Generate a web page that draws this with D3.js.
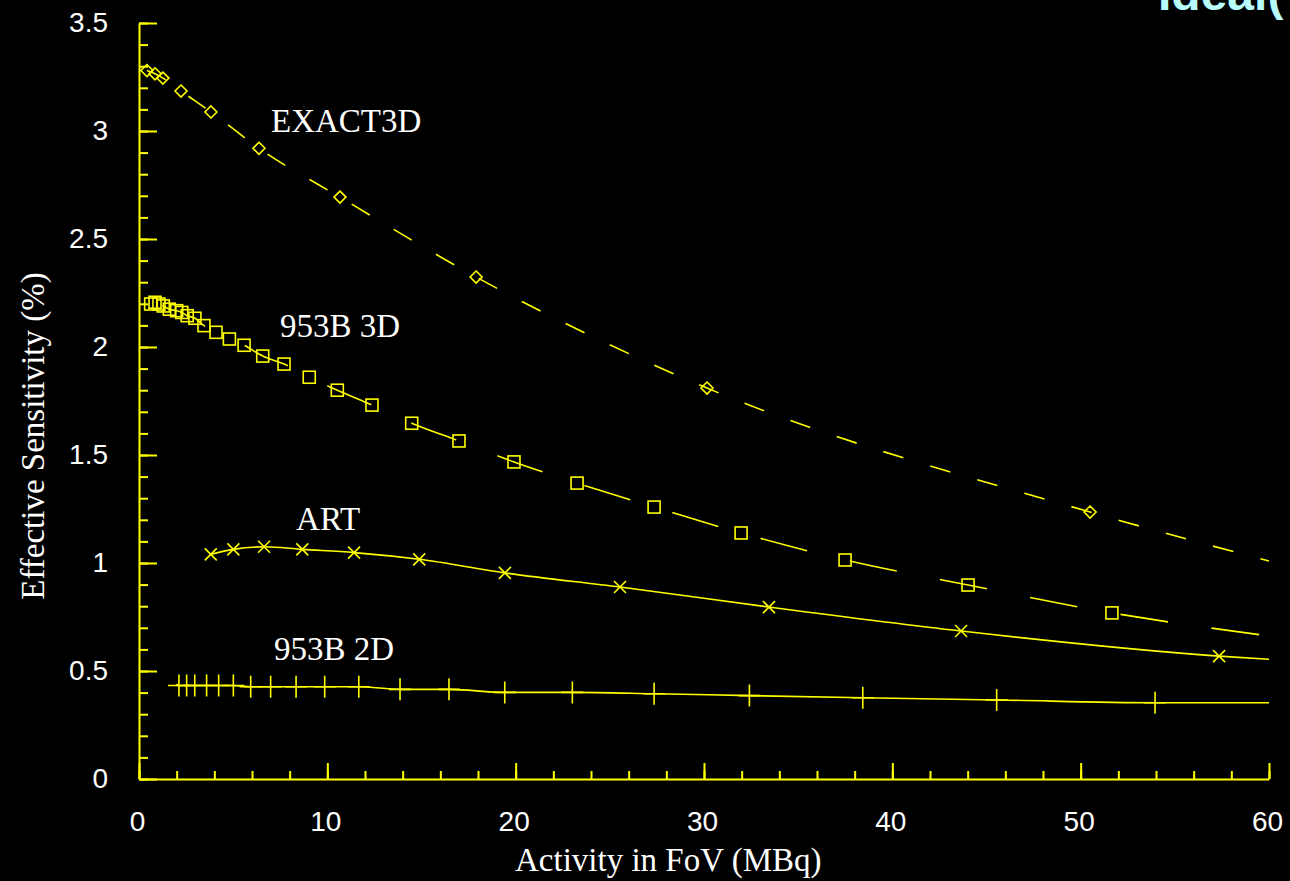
<!DOCTYPE html>
<html>
<head>
<meta charset="utf-8">
<script src="https://cdn.jsdelivr.net/npm/d3@7"></script>
<style>
  body { margin: 0; background: #000; }
  svg { display: block; }
  .tick text { fill: #fff; font-family: "Liberation Sans", Arial, sans-serif; font-size: 28px; }
  .serif { fill: #fff; font-family: "Liberation Serif", "Times New Roman", serif; font-size: 33px; }
</style>
</head>
<body>
<script>
// EXACT3D (diamonds, dashed)
var exactX = [0.42, 0.85, 1.27, 2.23, 3.82, 6.37, 10.67, 17.9, 30.16, 50.5];
var exactY = [3.28, 3.265, 3.245, 3.185, 3.088, 2.92, 2.694, 2.324, 1.81, 1.236];
var exactEnd = 1.009;

// 953B 3D (squares, long dashes)
var b3dX = [0.62, 0.85, 1.06, 1.29, 1.61, 2.0, 2.27, 2.56, 2.97, 3.45, 4.09, 4.80, 5.58, 6.57,
  7.70, 9.04, 10.53, 12.37, 14.48, 16.99, 19.91, 23.26, 27.35, 31.97, 37.49, 44.02, 51.66];
var b3dY = [2.199, 2.207, 2.199, 2.19, 2.175, 2.168, 2.16, 2.145, 2.133, 2.099, 2.068, 2.037, 2.008, 1.958,
  1.921, 1.86, 1.80, 1.731, 1.647, 1.565, 1.468, 1.370, 1.259, 1.139, 1.014, 0.898, 0.769];
var b3dEnd = 0.662;

// ART (crosses, solid)
var artX = [3.81, 5.01, 6.64, 8.67, 11.42, 14.88, 19.43, 25.54, 33.45, 43.65, 57.35];
var artY = [1.040, 1.063, 1.075, 1.063, 1.048, 1.017, 0.954, 0.889, 0.796, 0.685, 0.569];
var artEnd = 0.554;

// 953B 2D (pluses, solid)
var b2dX = [2.12, 2.53, 2.96, 3.59, 4.23, 5.01, 5.93, 6.99, 8.34, 9.86, 11.67, 13.86, 16.46,
  19.42, 23.01, 27.35, 32.41, 38.43, 45.54, 53.95];
var b2dY = [0.433, 0.433, 0.433, 0.433, 0.433, 0.433, 0.427, 0.427, 0.427, 0.427, 0.427, 0.415, 0.415,
  0.401, 0.401, 0.395, 0.386, 0.376, 0.366, 0.353];
var b2dStart = [1.96, 0.437];
var b2dEnd = 0.353;

var labelText = ['EXACT3D', '953B 3D', 'ART', '953B 2D'];
var labelX = [7.01, 7.49, 8.34, 7.17];
var labelY = [2.995, 2.046, 1.153, 0.551];

var yMajor = [0, 0.5, 1, 1.5, 2, 2.5, 3, 3.5];
var xMajor = [0, 10, 20, 30, 40, 50, 60];

var W = 1290, H = 881;
var yellow = '#ffff00';

var svg = d3.select('body').append('svg')
  .attr('width', W).attr('height', H)
  .style('background', '#000');

var x = d3.scaleLinear().domain([0, 60]).range([139, 1269]);
var y = d3.scaleLinear().domain([0, 3.5]).range([779, 23]);

// minor ticks
svg.append('g')
  .attr('transform', 'translate(139,0)')
  .call(d3.axisLeft(y).tickValues(d3.range(0, 3.51, 0.1)).tickSizeInner(-9).tickSizeOuter(0).tickFormat(''))
  .call(function(g) { g.select('.domain').remove(); g.selectAll('line').attr('stroke', yellow).attr('stroke-width', 2); });
svg.append('g')
  .attr('transform', 'translate(0,779)')
  .call(d3.axisBottom(x).tickValues(d3.range(0, 60.1, 2)).tickSizeInner(-8).tickSizeOuter(0).tickFormat(''))
  .call(function(g) { g.select('.domain').remove(); g.selectAll('line').attr('stroke', yellow).attr('stroke-width', 2); });

// major ticks + labels
svg.append('g')
  .attr('transform', 'translate(139,0)')
  .call(d3.axisLeft(y).tickValues(yMajor).tickSizeInner(-18).tickSizeOuter(0).tickPadding(31).tickFormat(d3.format('')))
  .call(function(g) {
    g.select('.domain').attr('stroke', yellow).attr('stroke-width', 2);
    g.selectAll('line').attr('stroke', yellow).attr('stroke-width', 2);
  });
svg.append('g')
  .attr('transform', 'translate(0,779)')
  .call(d3.axisBottom(x).tickValues(xMajor).tickSizeInner(-16).tickSizeOuter(0).tickPadding(32))
  .call(function(g) {
    g.select('.domain').attr('stroke', yellow).attr('stroke-width', 2);
    g.selectAll('line').attr('stroke', yellow).attr('stroke-width', 2);
    g.selectAll('text').attr('dx', -2);
  });

// axis titles
svg.append('text').attr('class', 'serif')
  .attr('x', 515).attr('y', 871)
  .text('Activity in FoV (MBq)');
svg.append('text').attr('class', 'serif')
  .attr('transform', 'translate(44,436) rotate(-90)')
  .attr('text-anchor', 'middle')
  .text('Effective Sensitivity (%)');

// lines
var line = d3.line()
  .x(function(d) { return x(d[0]); })
  .y(function(d) { return y(d[1]); })
  .curve(d3.curveMonotoneX);

function pts(xs, ys) { return xs.map(function(v, i) { return [v, ys[i]]; }); }

var series = [
  { p: pts(exactX, exactY).concat([[60, exactEnd]]), dash: '21,28', off: 0 },
  { p: pts(b3dX, b3dY).concat([[60, b3dEnd]]), dash: '48,44', off: 79 },
  { p: pts(artX, artY).concat([[60, artEnd]]), dash: null, off: 0 },
  { p: [b2dStart].concat(pts(b2dX, b2dY), [[60, b2dEnd]]), dash: null, off: 0 }
];

svg.selectAll('path.series').data(series).enter().append('path')
  .attr('class', 'series')
  .attr('d', function(d) { return line(d.p); })
  .attr('fill', 'none')
  .attr('stroke', yellow)
  .attr('stroke-width', 1.6)
  .attr('stroke-dasharray', function(d) { return d.dash; })
  .attr('stroke-dashoffset', function(d) { return d.off; });

// markers
var mk = svg.append('g').attr('fill', 'none').attr('stroke', yellow).attr('stroke-width', 1.6);

mk.selectAll('path.dia').data(pts(exactX, exactY)).enter().append('path')
  .attr('d', function(d) {
    var cx = x(d[0]), cy = y(d[1]), r = 6;
    return 'M' + cx + ',' + (cy - r) + 'L' + (cx + r) + ',' + cy + 'L' + cx + ',' + (cy + r) + 'L' + (cx - r) + ',' + cy + 'Z';
  });

mk.selectAll('rect').data(pts(b3dX, b3dY)).enter().append('rect')
  .attr('x', function(d) { return x(d[0]) - 6; })
  .attr('y', function(d) { return y(d[1]) - 6; })
  .attr('width', 12).attr('height', 12);

mk.selectAll('path.cross').data(pts(artX, artY)).enter().append('path')
  .attr('d', function(d) {
    var cx = x(d[0]), cy = y(d[1]), r = 6;
    return 'M' + (cx - r) + ',' + (cy - r) + 'L' + (cx + r) + ',' + (cy + r) +
      'M' + (cx - r) + ',' + (cy + r) + 'L' + (cx + r) + ',' + (cy - r);
  });

mk.selectAll('path.plus').data(pts(b2dX, b2dY)).enter().append('path')
  .attr('d', function(d) {
    var cx = x(d[0]), cy = y(d[1]), r = 11;
    return 'M' + (cx - r) + ',' + cy + 'L' + (cx + r) + ',' + cy +
      'M' + cx + ',' + (cy - r) + 'L' + cx + ',' + (cy + r);
  });

// series labels
svg.selectAll('text.lab').data(labelText).enter().append('text')
  .attr('class', 'serif lab')
  .attr('x', function(d, i) { return x(labelX[i]); })
  .attr('y', function(d, i) { return y(labelY[i]); })
  .text(function(d) { return d; });

// title at top right, clipped by the top edge as in the reference
svg.append('text')
  .attr('x', 1158).attr('y', 10)
  .attr('fill', '#b8fcfc')
  .attr('font-family', '"Liberation Sans", Arial, sans-serif')
  .attr('font-weight', 'bold')
  .attr('font-size', 48)
  .text('Ideal(');
</script>
</body>
</html>
